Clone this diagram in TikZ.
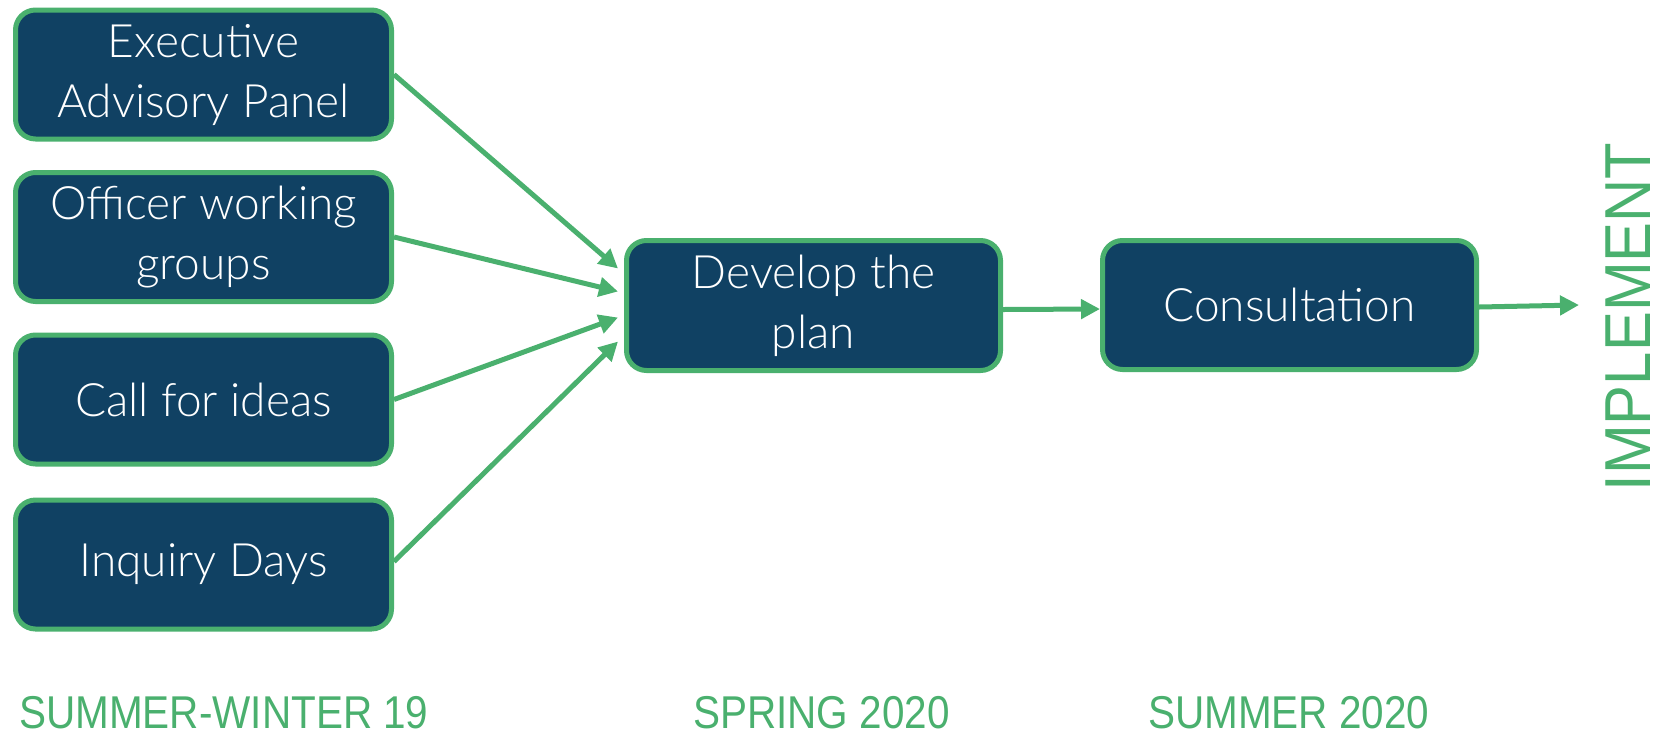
\documentclass[tikz,border=0pt]{standalone}
\usepackage{fontspec}
\setmainfont{Liberation Sans}
\newfontfamily\boxfont{Lato Light}
\newfontfamily\labfont{Liberation Sans}[FakeStretch=0.88]
\newfontfamily\implfont{Liberation Sans}[FakeStretch=0.92]
\usetikzlibrary{arrows.meta,calc}
\definecolor{boxblue}{RGB}{16,65,99}
\definecolor{stagegreen}{RGB}{74,176,110}
\begin{document}
\begin{tikzpicture}[x=1pt,y=-1pt,
  stage/.style={draw=stagegreen, line width=5pt, fill=boxblue, rounded corners=20pt,
    text=white, align=center, minimum width=376pt, minimum height=129pt, inner sep=0pt,
    font=\boxfont\fontsize{46}{60}\selectfont},
  flow/.style={draw=stagegreen, line width=5pt, -{Triangle[length=19pt,width=19pt]}},
  period/.style={text=stagegreen, anchor=base west, inner sep=0pt,
    font=\labfont\fontsize{46}{46}\selectfont}]
\useasboundingbox (0,0) rectangle (1659,732);

\node[stage] (eap) at (203.5,74.5) {Executive\\Advisory Panel};
\node[stage] (owg) at (203.5,237) {Officer working\\groups};
\node[stage] (cfi) at (203.5,399.5) {Call for ideas};
\node[stage] (inq) at (203.5,564.5) {Inquiry Days};
\node[stage, minimum width=374pt, minimum height=130pt] (dev) at (813.5,305.5) {Develop the\\plan};
\node[stage, minimum width=374pt, minimum height=129pt] (con) at (1289.5,305) {Consultation};

\coordinate (t1) at ($(dev.west)+(-6,-37)$);
\coordinate (t2) at ($(dev.west)+(-6,-14)$);
\coordinate (t3) at ($(dev.west)+(-6,12)$);
\coordinate (t4) at ($(dev.west)+(-6,36)$);
\coordinate (out) at (1579,305);

\draw[flow] (eap.east) -- (t1);
\draw[flow] (owg.east) -- (t2);
\draw[flow] (cfi.east) -- (t3);
\draw[flow] ($(inq.east)+(0,-3)$) -- (t4);
\draw[flow] ($(dev.east)+(0,4)$) -- ($(con.west)+(0,4)$);
\draw[flow] ($(con.east)+(0,2)$) -- (out);

\node[text=stagegreen, rotate=90, inner sep=0pt, font=\implfont\fontsize{65}{65}\selectfont] (impl) at (1628.5,317) {IMPLEMENT};

\node[period] (p1) at (19,728) {SUMMER-WINTER 19};
\node[period] (p2) at (693,728) {SPRING 2020};
\node[period] (p3) at (1148,728) {SUMMER 2020};
\end{tikzpicture}
\end{document}
